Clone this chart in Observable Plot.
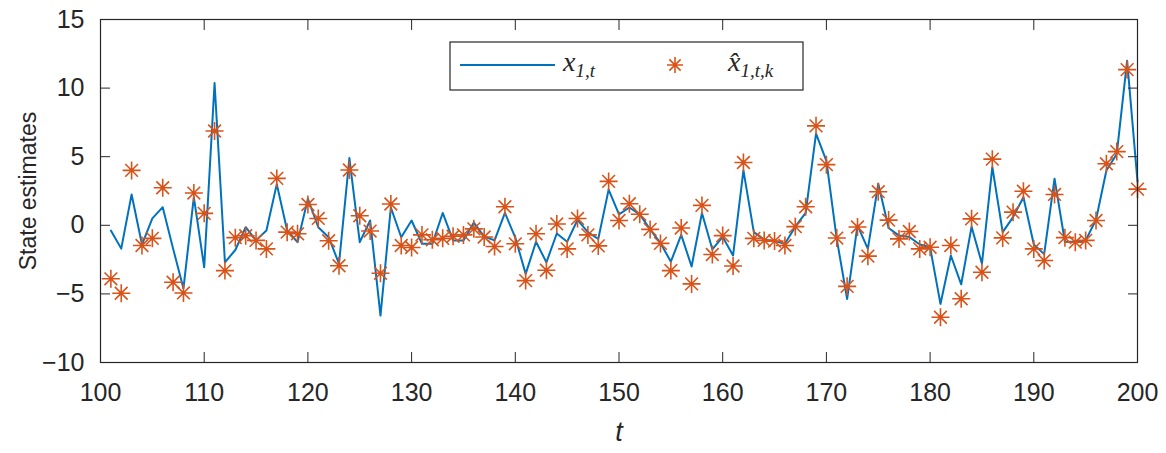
<!DOCTYPE html>
<html>
<head>
<meta charset="utf-8">
<script src="https://cdn.jsdelivr.net/npm/d3@7"></script>
<script src="https://cdn.jsdelivr.net/npm/@observablehq/plot@0.6"></script>
<style>
  html, body { margin: 0; padding: 0; background: #fff; }
  #chart { width: 1166px; height: 453px; }
  #chart svg { display: block; }
</style>
</head>
<body>
<div id="chart"></div>
<script>
// Time steps
const steps = [
  101,102,103,104,105,106,107,108,109,110,
  111,112,113,114,115,116,117,118,119,120,
  121,122,123,124,125,126,127,128,129,130,
  131,132,133,134,135,136,137,138,139,140,
  141,142,143,144,145,146,147,148,149,150,
  151,152,153,154,155,156,157,158,159,160,
  161,162,163,164,165,166,167,168,169,170,
  171,172,173,174,175,176,177,178,179,180,
  181,182,183,184,185,186,187,188,189,190,
  191,192,193,194,195,196,197,198,199,200
];

// True state x_{1,t}
const trueState = [
  -0.38,-1.7, 2.25,-1.4, 0.5, 1.32,-1.7,-4.6, 2.05,-3.06,
  10.37,-2.7,-1.8,-0.14,-1.1,-0.38, 3.0,-0.38,-1.23, 1.93,
  -0.14,-0.87,-2.8, 4.9,-1.23, 0.35,-6.58, 1.3,-0.87, 0.35,
  -1.35,-1.35, 0.9,-1.1,-1.1, 0.2,-0.82,-1.1, 0.9,-0.9,
  -3.54,-1.2,-2.7,-0.6,-1.2, 0.4,-0.5,-1.0, 2.6, 0.8,
  1.3, 0.8,-0.3,-1.3,-2.65,-0.7,-3.0, 0.9,-1.75,-0.85,
  -2.2, 4.0,-0.5,-1.05,-1.15,-1.35,-0.1, 0.9, 6.68, 4.7,
  -1.0,-5.37, 0.0,-1.72, 3.03,-0.2,-0.75,-0.85,-1.4,-1.6,
  -5.73,-2.2,-4.3,-0.1,-2.8, 4.25,-0.5, 0.6, 2.05,-1.4,
  -2.1, 3.4,-1.2,-1.2,-1.1, 0.4, 4.0, 5.2, 12.0, 3.2
];

// Estimates \hat{x}_{1,t,k}
const estimate = [
  -3.9,-4.95, 4.0,-1.47,-0.95, 2.74,-4.15,-4.93, 2.35, 0.87,
  6.87,-3.3,-0.9,-0.76,-1.1,-1.72, 3.42,-0.5,-0.62, 1.52,
  0.5,-1.13,-2.95, 4.03, 0.7,-0.42,-3.5, 1.55,-1.47,-1.62,
  -0.7,-1.05,-0.95,-0.8,-0.7,-0.26,-0.85,-1.55, 1.35,-1.35,
  -4.03,-0.62,-3.28, 0.1,-1.72, 0.5,-0.7,-1.5, 3.2, 0.35,
  1.57, 0.8,-0.3,-1.32,-3.3,-0.2,-4.27, 1.45,-2.13,-0.75,
  -2.97, 4.58,-0.95,-1.1,-1.15,-1.47,-0.1, 1.35, 7.25, 4.42,
  -0.93,-4.45,-0.12,-2.25, 2.45, 0.38,-0.99,-0.45,-1.72,-1.6,
  -6.7,-1.47,-5.35, 0.47,-3.42, 4.82,-0.92, 0.96, 2.48,-1.72,
  -2.57, 2.25,-0.9,-1.23,-1.1, 0.35, 4.49, 5.37, 11.35, 2.64
];

const xTicks = [100, 110, 120, 130, 140, 150, 160, 170, 180, 190, 200];
const yTicks = [-10, -5, 0, 5, 10, 15];

const xLabel = "t";
const yLabel = "State estimates";

// Legend entries: base symbol and subscript
const legendBase = ["x", "x\u0302"];
const legendSub = ["1,t", "1,t,k"];

const lineColor = "#0072BD";
const markerColor = "#D95319";
const axisColor = "#262626";

const rows = steps.map((t, i) => ({t, x: trueState[i], xhat: estimate[i]}));

// Eight-armed asterisk marker
const asterisk = {
  draw(context, size) {
    const r = Math.sqrt(size / Math.PI);
    const d = r * Math.SQRT1_2;
    context.moveTo(-r, 0); context.lineTo(r, 0);
    context.moveTo(0, -r); context.lineTo(0, r);
    context.moveTo(-d, -d); context.lineTo(d, d);
    context.moveTo(-d, d); context.lineTo(d, -d);
  }
};

const noText = () => "";

const chart = Plot.plot({
  width: 1166,
  height: 453,
  marginLeft: 100,
  marginRight: 29,
  marginTop: 19,
  marginBottom: 91,
  style: {
    fontFamily: "'Liberation Sans', Arial, sans-serif",
    fontSize: "24px",
    color: axisColor,
    background: "#fff"
  },
  x: {domain: [100, 200]},
  y: {domain: [-10, 15]},
  marks: [
    Plot.line(rows, {x: "t", y: "x", stroke: lineColor, strokeWidth: 2}),
    Plot.dot(rows, {x: "t", y: "xhat", symbol: asterisk, r: 9, fill: "none", stroke: markerColor, strokeWidth: 1.6}),
    Plot.axisX(xTicks, {anchor: "bottom", tickSize: -10, tickPadding: 31, label: null, fontSize: 25, stroke: axisColor}),
    Plot.axisX(xTicks, {anchor: "top", tickSize: -10, tickFormat: noText, label: null, stroke: axisColor}),
    Plot.axisY(yTicks, {anchor: "left", tickSize: -10, tickPadding: 26, label: null, fontSize: 25, stroke: axisColor}),
    Plot.axisY(yTicks, {anchor: "right", tickSize: -10, tickFormat: noText, label: null, stroke: axisColor}),
    Plot.frame({stroke: axisColor, strokeWidth: 1.2}),
    Plot.text([xLabel], {frameAnchor: "bottom", dy: 78, text: d => d, fontStyle: "italic", fontSize: 27, fill: axisColor}),
    Plot.text([yLabel], {frameAnchor: "left", dx: -72, rotate: -90, textAnchor: "middle", text: d => d, fontSize: 23, fill: axisColor})
  ]
});

document.getElementById("chart").appendChild(chart);

// Boxed legend near the top of the axes
const svg = d3.select(chart);
const legend = svg.append("g").attr("transform", "translate(450,42)");
legend.append("rect")
  .attr("width", 353).attr("height", 48)
  .attr("fill", "#fff").attr("stroke", axisColor).attr("stroke-width", 1.2);
legend.append("line")
  .attr("x1", 10).attr("x2", 105).attr("y1", 23).attr("y2", 23)
  .attr("stroke", lineColor).attr("stroke-width", 2);
legend.append("path")
  .attr("transform", "translate(225,23)")
  .attr("d", d3.symbol(asterisk, Math.PI * 64)())
  .attr("fill", "none").attr("stroke", markerColor).attr("stroke-width", 1.6);

const labelX = [113, 278];
legendBase.forEach((base, i) => {
  const txt = legend.append("text")
    .attr("x", labelX[i]).attr("y", 29)
    .attr("text-anchor", "start")
    .style("font-family", "'Liberation Serif', 'DejaVu Serif', serif")
    .style("font-style", "italic")
    .attr("fill", axisColor);
  txt.append("tspan").style("font-size", "28px").text(base);
  txt.append("tspan").attr("dy", 6).style("font-size", "19px").text(legendSub[i]);
});
</script>
</body>
</html>
